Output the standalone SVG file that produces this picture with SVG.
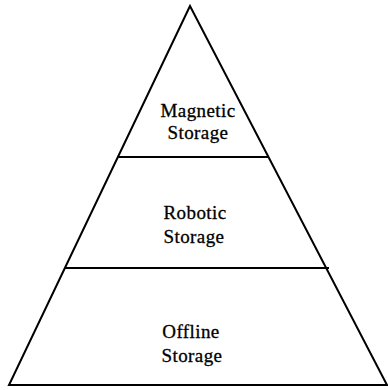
<svg xmlns="http://www.w3.org/2000/svg" width="388" height="390" viewBox="0 0 388 390">
  <style>
    .edge { fill: none; stroke: #000; stroke-width: 2; stroke-linejoin: miter; }
    .tier { fill: #000; font-family: "Liberation Serif", "Times New Roman", serif; font-size: 19px; text-anchor: middle; letter-spacing: 0.4px; stroke: #000; stroke-width: 0.3px; }
  </style>
  <rect width="388" height="390" fill="#fff"/>
  <!-- pyramid outline and tier dividers -->
  <g id="connectors">
    <path class="edge" d="M190,6 L9,385 L387,385 Z"/>
    <line class="edge" x1="117" y1="157" x2="268" y2="157"/>
    <line class="edge" x1="65" y1="268" x2="329" y2="268"/>
  </g>
  <g id="magnetic">
    <text class="tier" x="198" y="117">Magnetic</text>
    <text class="tier" x="198" y="139">Storage</text>
  </g>
  <g id="robotic">
    <text class="tier" x="195" y="219">Robotic</text>
    <text class="tier" x="194" y="243">Storage</text>
  </g>
  <g id="offline">
    <text class="tier" x="191" y="338">Offline</text>
    <text class="tier" x="192" y="362">Storage</text>
  </g>
</svg>
